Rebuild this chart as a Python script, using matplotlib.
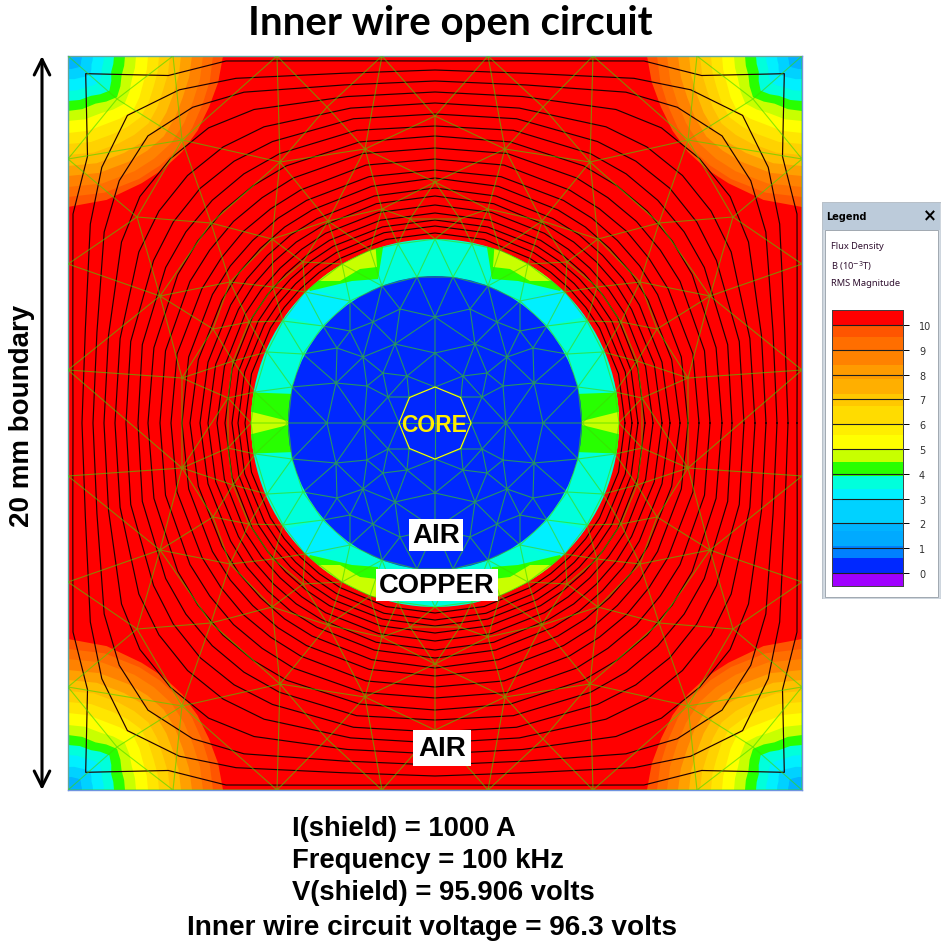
import matplotlib
matplotlib.use('Agg')
import matplotlib.pyplot as plt
from matplotlib.patches import Circle, Polygon, Rectangle
from matplotlib.tri import Triangulation
import numpy as np

# all model geometry is in screen pixels measured from the wire centre
# (734 px = 20 mm)
half_size = 367
wire_outer = 184
wire_inner = 147
core_radius = 36

# legend scale
scale_edges = [-0.52, 0, 0.6, 1.1, 1.7, 2.0, 3.0, 3.37, 3.93, 4.47, 5.0, 5.57, 6.0,
               6.73, 7.23, 7.83, 8.4, 8.98, 9.5, 10.0, 10.6]
scale_colors = ['#a000ff', '#0028ff', '#0080ff', '#00aaff', '#00b4ff', '#00d2ff', '#00f0ff',
                '#00ffdc', '#28ff00', '#c8ff00', '#ffff00', '#ffee00', '#ffdc00', '#ffc800',
                '#ffaf00', '#ff9b00', '#ff8200', '#ff6e00', '#ff5500', '#ff0000']
scale_ticks = [0, 1, 2, 3, 4, 5, 6, 7, 8, 9, 10]

# colour bands around each corner, radius from the corner at these angles
band_angles = [0, 20, 40, 60, 90]
band_radii = [
    [155, 150, 149, 147, 151],
    [145, 143, 144, 142, 141],
    [135, 133, 135, 133, 131],
    [124, 122, 125, 122, 120],
    [113, 112, 115, 112, 110],
    [102, 101, 105, 101, 99],
    [91, 91, 95, 90, 88],
    [80, 80, 85, 78, 77],
    [68, 68, 74, 66, 65],
    [57, 57, 64, 55, 55],
    [46, 46, 54, 46, 45],
    [36, 36, 41, 36, 35],
    [25, 25, 29, 25, 23],
    [14, 14, 16, 14, 13],
]
band_colors = ['#ff5500', '#ff6e00', '#ff8200', '#ffa000', '#ffbe00', '#ffd200', '#ffe600',
               '#ffff00', '#c8ff00', '#28ff00', '#00ffdc', '#00f0ff', '#00d2ff', '#00b4ff']

# flux lines, radius from wire centre at these angles off the axis
flux_angles = [0, 15, 30, 37.5, 45]
flux_radii = [
    [362, 375, 418, 438, 494],
    [353, 362, 398, 420, 435],
    [342, 350, 382, 398, 406],
    [331, 338, 362, 372, 374],
    [320, 326, 342, 348, 350],
    [309, 315, 325, 330, 332],
    [297, 303, 311, 314, 315],
    [287, 291, 297, 299, 300],
    [275, 279, 283, 284, 285],
    [264, 267, 269, 270, 271],
    [253, 255, 257, 258, 258],
    [245, 245, 246, 247, 247],
    [235, 235, 236, 237, 237],
    [227, 227, 227, 228, 228],
    [218, 218, 219, 219, 219],
    [210, 210, 211, 211, 211],
    [203, 203, 204, 204, 204],
    [197, 197, 197, 197, 197],
    [190, 190, 190, 190, 190],
]

# patches inside the copper ring (upper left quadrant, mirrored)
ring_cyan = [(-165, 110), (-137, 138), (-85, 122), (-112, 97)]
ring_green_top = [(-135, 152), (-50, 188), (-57, 144), (-83, 142), (-125, 132)]
ring_yellow_top = [(-135, 155), (-60, 185), (-58, 156), (-75, 154), (-95, 142), (-115, 142)]
ring_green_side = [(-195, 31), (-140, 29), (-140, -29), (-195, -27)]
ring_yellow_side = [(-195, 14), (-147, 2), (-147, -2), (-195, -14)]

# mesh nodes of the upper left quadrant, mirrored into the others
mesh_x = [-367, -262, -158, -53, -367, -367, -367, -253, -298, -224, -318, -275, -205, -222,
          -186, -202, -253, -207, -108, 0, -70, -155, 0, -107, -53, -163, -25, -132, -162,
          -180, -168, -152, -130, -93, -65, -37, 0, -184,
          -147, -143, -132, -112, -85, -53, -18,
          -85, -62, -35, 0, -98, -72, -40, 0, -52, -28, -99, -68, -47, -108, -71,
          -36, -26, 0]
mesh_y = [367, 367, 367, 367, 264, 159, 53, 283, 206, 200, 324, 127, 141, 94,
          101, 62, 45, 25, 316, 307, 274, 261, 241, 202, 214, 184, 204, 161, 136,
          31, 71, 102, 131, 159, 173, 179, 184, 0,
          0, 36, 69, 97, 122, 137, 146,
          92, 101, 114, 106, 75, 66, 79, 70, 50, 47, 40, 37, 26, 0, 0,
          0, 26, 36]

title_text = 'Inner wire open circuit'
side_text = '20 mm boundary'
info_lines = ['I(shield) = 1000 A', 'Frequency = 100 kHz', 'V(shield) = 95.906 volts']
last_line = 'Inner wire circuit voltage = 96.3 volts'
legend_lines = ['Flux Density', r'B (10$^{-3}$T)', 'RMS Magnitude']

W, H = 950, 953
label_font = 'Liberation Sans'
mesh_color = (63 / 255, 217 / 255, 0)


def mirrored(points, sx, sy):
    return [(x * sx, y * sy) for x, y in points]


def fig_box(left, top, right, bottom):
    return [left / W, 1 - bottom / H, (right - left) / W, (bottom - top) / H]


fig = plt.figure(figsize=(W / 100, H / 100), dpi=100, facecolor='white')
ax = fig.add_axes(fig_box(68, 57, 802, 791))
ax.set_xlim(-half_size, half_size)
ax.set_ylim(-half_size, half_size)
ax.set_xticks([])
ax.set_yticks([])
ax.set_facecolor('#ff0000')
for s in ax.spines.values():
    s.set_color('#6f94e0')
    s.set_linewidth(1.0)

# corner bands
fine_angles = np.array([0, 10, 20, 30, 40, 50, 60, 75, 90])
for radii, col in zip(band_radii, band_colors):
    r = np.interp(fine_angles, band_angles, radii)
    dx = r * np.cos(np.radians(fine_angles))
    dy = r * np.sin(np.radians(fine_angles))
    for sx in (-1, 1):
        for sy in (-1, 1):
            xs = sx * (half_size - dx)
            ys = sy * (half_size - dy)
            pts = np.vstack(([[sx * half_size, sy * half_size]], np.column_stack((xs, ys))))
            ax.add_patch(Polygon(pts, closed=True, fc=col, ec='none', zorder=1))

# copper ring and inner air
ring = Circle((0, 0), wire_outer, fc='#00ffdc', ec='none', zorder=2)
ax.add_patch(ring)
for sx in (-1, 1):
    for sy in (-1, 1):
        for pts, col in ((ring_cyan, '#00f0ff'), (ring_green_top, '#28ff00'),
                         (ring_yellow_top, '#c8ff00'), (ring_green_side, '#28ff00'),
                         (ring_yellow_side, '#c8ff00')):
            p = Polygon(mirrored(pts, sx, sy), closed=True, fc=col, ec='none', zorder=3)
            ax.add_patch(p)
            p.set_clip_path(ring)
ax.add_patch(Circle((0, 0), wire_inner, fc='#0028ff', ec='none', zorder=4))

# flux lines, straight between the table angles
line_angles = np.array([a + 90 * q for q in range(4)
                        for a in (0, 15, 30, 37.5, 45, 52.5, 60, 75)] + [360.0])
fold = np.abs(((line_angles + 45) % 90) - 45)
for radii in flux_radii:
    r = np.interp(fold, flux_angles, radii)
    ax.plot(r * np.cos(np.radians(line_angles)), r * np.sin(np.radians(line_angles)),
            color='#200000', lw=0.85, zorder=5)

# mesh
nodes = set()
for x, y in zip(mesh_x, mesh_y):
    for sx in (-1, 1):
        for sy in (-1, 1):
            nodes.add((x * sx, y * sy))
nodes = np.array(sorted(nodes), dtype=float)
tri = Triangulation(nodes[:, 0], nodes[:, 1])
ax.triplot(tri, color=mesh_color, alpha=0.6, lw=0.8, zorder=6)

# core conductor
core_angles = np.radians(np.arange(0, 360, 45))
core_pts = np.column_stack((core_radius * np.cos(core_angles), core_radius * np.sin(core_angles)))
ax.add_patch(Polygon(core_pts, closed=True, fc='#0028ff', ec='none', zorder=7))
ax.plot([-core_radius, core_radius], [0, 0], color=mesh_color, alpha=0.6, lw=0.8, zorder=7)
ax.plot([0, 0], [-core_radius, core_radius], color=mesh_color, alpha=0.6, lw=0.8, zorder=7)
ax.add_patch(Polygon(core_pts, closed=True, fc='none', ec='#ffff00', lw=0.8, zorder=8))

ax.text(-1, -2, 'CORE', color='#ffee00', ha='center', va='center', fontsize=16.5,
        family=label_font, weight='bold', zorder=9)
box = dict(fc='white', ec='none', pad=2)
ax.text(1, -112, 'AIR', color='black', ha='center', va='center', fontsize=20,
        family=label_font, weight='bold', bbox=box, zorder=9)
ax.text(2, -162, 'COPPER', color='black', ha='center', va='center', fontsize=19.7,
        family=label_font, weight='bold', bbox=box, zorder=9)
ax.text(7, -325, 'AIR', color='black', ha='center', va='center', fontsize=20,
        family=label_font, weight='bold', bbox=dict(fc='white', ec='none', pad=3.5), zorder=9)

# outside texts
fig.text(450 / W, 1 - 23 / H, title_text, ha='center', va='center', fontsize=29,
         family='Lato', weight='bold')
fig.text(22 / W, 1 - 416 / H, side_text, ha='center', va='center', rotation=90, fontsize=20,
         family=label_font, weight='bold')
for i, line in enumerate(info_lines):
    fig.text(292 / W, 1 - (829 + 32 * i) / H, line, ha='left', va='center', fontsize=19.7,
             family=label_font, weight='bold')
fig.text(432 / W, 1 - 928 / H, last_line, ha='center', va='center', fontsize=20.2,
         family=label_font, weight='bold')

# size arrow
ax.annotate('', xy=(42 / W, 1 - 57 / H), xytext=(42 / W, 1 - 791 / H),
            xycoords='figure fraction', textcoords='figure fraction',
            arrowprops=dict(arrowstyle='<->', lw=2.2, color='black', mutation_scale=28,
                            shrinkA=0, shrinkB=0), annotation_clip=False)

# legend window
pan = fig.add_axes(fig_box(822, 203, 941, 600))
pan.set_xlim(0, 119)
pan.set_ylim(397, 0)
pan.axis('off')
pan.add_patch(Rectangle((0, 0), 119, 397, fc='#d4dce4', ec='#b8c0c8', lw=1))
pan.add_patch(Rectangle((3, 28), 113, 367, fc='white', ec='#a0a8b0', lw=0.7))
pan.add_patch(Rectangle((1, 1), 117, 27, fc='#bccbda', ec='none'))
pan.text(4, 14, 'Legend', fontsize=7, weight='bold', va='center', family='DejaVu Sans')
pan.text(108, 13, '\u00d7', fontsize=12, weight='bold', ha='center', va='center', family='DejaVu Sans')
for line, y in zip(legend_lines, [44, 63, 81]):
    pan.text(9, y, line, fontsize=6.7, va='center', color='#301030', family='Noto Sans')

cb = fig.add_axes(fig_box(832, 311, 903, 587))
cb.bar(0.5, np.diff(scale_edges), bottom=scale_edges[:-1], width=1, color=scale_colors)
cb.hlines(scale_ticks, 0, 1, color='#202020', lw=0.8)
cb.set_xlim(0, 1)
cb.set_ylim(scale_edges[0], scale_edges[-1])
cb.set_xticks([])
cb.yaxis.tick_right()
cb.set_yticks(scale_ticks)
cb.tick_params(axis='y', length=4.5, width=0.7, pad=7, labelsize=7, labelcolor='#303030')
for s in cb.spines.values():
    s.set_linewidth(0.7)
    s.set_color('#404040')

fig.savefig('out.png', dpi=100)
